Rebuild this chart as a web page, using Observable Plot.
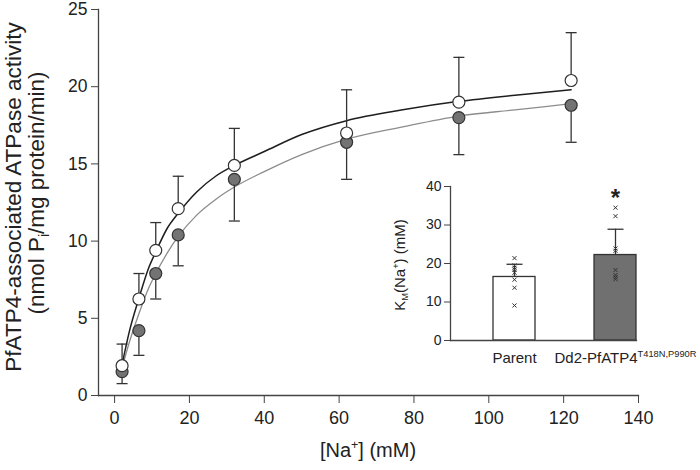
<!DOCTYPE html>
<html><head><meta charset="utf-8">
<script src="https://cdn.jsdelivr.net/npm/d3@7"></script>
<script src="https://cdn.jsdelivr.net/npm/@observablehq/plot@0.6"></script>
<style>
body{margin:0;background:#fff;}
#wrap{position:relative;width:700px;height:470px;font-family:"Liberation Sans",Arial,sans-serif;background:#fff;}
#wrap svg{position:absolute;overflow:visible;}
</style></head><body><div id="wrap"></div>
<script>
// ---- main panel data ----
const naConc = [2, 6.5, 11, 17, 32, 62, 92, 122];
const parentActivity = [1.93, 6.25, 9.4, 12.1, 14.9, 17.0, 19.0, 20.4];
const parentSD = [1.4, 1.65, 1.8, 2.1, 2.4, 2.8, 2.9, 3.1];
const mutantActivity = [1.55, 4.2, 7.9, 10.4, 14.0, 16.4, 18.0, 18.8];
const mutantSD = [0.78, 1.6, 1.65, 2.0, 2.7, 2.4, 2.4, 2.4];
const fitConc = [2, 4, 6.5, 9, 11, 14, 17, 22, 27, 32, 40, 50, 62, 77, 92, 107, 122];
const parentFit = [2.0, 4.2, 6.3, 8.2, 9.3, 10.8, 11.8, 13.2, 14.2, 14.9, 15.8, 16.9, 17.8, 18.5, 19.05, 19.45, 19.8];
const mutantFit = [1.8, 3.5, 5.3, 6.9, 7.9, 9.2, 10.3, 11.7, 12.7, 13.5, 14.5, 15.6, 16.6, 17.4, 18.1, 18.5, 18.9];
const xTicks = [0, 20, 40, 60, 80, 100, 120, 140];
const yTicks = [0, 5, 10, 15, 20, 25];

// ---- inset data ----
const groups = ["Parent", "Dd2"];
const groupLabels = ["Parent", "Dd2-PfATP4T418N,P990R"];
const kmMean = [16.5, 22.2];
const kmSD = [3.3, 6.7];
const parentKm = [21.4, 19.5, 18.9, 18.4, 17.6, 15.8, 13.7, 9.1];
const mutantKm = [34.5, 32.3, 23.9, 23.3, 18.3, 17.0, 16.4, 15.9];
const kmTicks = [0, 10, 20, 30, 40];
const sigMarks = [{group: "Dd2", label: "*"}];

const FONT = "'Liberation Sans', Arial, Helvetica, sans-serif";
const capSymbol = {draw(ctx, size) { const w = Math.sqrt(size / Math.PI); ctx.moveTo(-w, 0); ctx.lineTo(w, 0); }};

const pts = naConc.map((x, i) => ({x, parent: parentActivity[i], psd: parentSD[i], mutant: mutantActivity[i], msd: mutantSD[i]}));
const fit = fitConc.map((x, i) => ({x, parent: parentFit[i], mutant: mutantFit[i]}));

function rich(sel, parts, fs) {
  sel.text(null);
  let cur = 0;
  parts.forEach(p => {
    const off = p.sup ? -0.42 * fs : p.sub ? 0.22 * fs : 0;
    const ts = sel.append("tspan").text(p.t);
    if (off - cur !== 0) ts.attr("dy", off - cur);
    if (p.sup || p.sub) ts.attr("font-size", (p.size || 0.62) * fs);
    cur = off;
  });
}

const main = Plot.plot({
  width: 700, height: 470,
  marginLeft: 98, marginRight: 62, marginTop: 9, marginBottom: 75,
  style: {fontFamily: FONT, fontSize: "18px", color: "#222", background: "transparent"},
  x: {domain: [-4.3, 140]},
  y: {domain: [0, 25]},
  marks: [
    Plot.axisX({ticks: xTicks, tickSize: 8, tickPadding: 8, fontSize: 18, label: null, stroke: "#444"}),
    Plot.axisY({ticks: yTicks, tickSize: 7, tickPadding: 4, fontSize: 17.5, label: null, stroke: "#444"}),
    Plot.line(fit, {x: "x", y: "mutant", stroke: "#8c8c8c", strokeWidth: 1.3, curve: "monotone-x"}),
    Plot.line(fit, {x: "x", y: "parent", stroke: "#1e1e1e", strokeWidth: 1.5, curve: "monotone-x"}),
    Plot.ruleX(pts, {x: "x", y1: "parent", y2: d => d.parent + d.psd, stroke: "#333", strokeWidth: 1.3}),
    Plot.dot(pts, {x: "x", y: d => d.parent + d.psd, symbol: capSymbol, r: 5.5, fill: "none", stroke: "#333", strokeWidth: 1.3}),
    Plot.ruleX(pts, {x: "x", y1: d => d.mutant - d.msd, y2: "mutant", stroke: "#333", strokeWidth: 1.3}),
    Plot.dot(pts, {x: "x", y: d => d.mutant - d.msd, symbol: capSymbol, r: 5.5, fill: "none", stroke: "#333", strokeWidth: 1.3}),
    Plot.dot(pts, {x: "x", y: "mutant", r: 6, fill: "#737373", stroke: "#333", strokeWidth: 1.2}),
    Plot.dot(pts, {x: "x", y: "parent", r: 6, fill: "#fff", stroke: "#333", strokeWidth: 1.2}),
    Plot.frame({anchor: "left", stroke: "#444", strokeWidth: 1.3}),
    Plot.frame({anchor: "bottom", stroke: "#444", strokeWidth: 1.3})
  ]
});

const kmData = groups.map((g, i) => ({group: g, km: kmMean[i], sd: kmSD[i]}));
const kmPoints = [
  ...parentKm.map(v => ({group: groups[0], km: v})),
  ...mutantKm.map(v => ({group: groups[1], km: v}))
];
const fmtGroup = g => groupLabels[groups.indexOf(g)];

const inset = Plot.plot({
  width: 320, height: 200,
  marginLeft: 70, marginRight: 64, marginTop: 16, marginBottom: 30,
  style: {fontFamily: FONT, fontSize: "14px", color: "#222", background: "transparent"},
  x: {domain: groups, paddingInner: 0.588, paddingOuter: 0.206, align: 1},
  y: {domain: [0, 40]},
  color: {domain: groups, range: ["#ffffff", "#707070"]},
  marks: [
    Plot.barY(kmData, {x: "group", y: "km", fill: "group", stroke: "#333", strokeWidth: 1.3}),
    Plot.ruleX(kmData, {x: "group", y1: "km", y2: d => d.km + d.sd, stroke: "#333", strokeWidth: 1.3}),
    Plot.dot(kmData, {x: "group", y: d => d.km + d.sd, symbol: capSymbol, r: 8, fill: "none", stroke: "#333", strokeWidth: 1.3}),
    Plot.dot(kmPoints, {x: "group", y: "km", symbol: "times", r: 2, stroke: "#333", strokeWidth: 1}),
    Plot.text(sigMarks, {x: "group", text: "label", frameAnchor: "top", fontSize: 24, fontWeight: "bold", dy: 2, fill: "#222"}),
    Plot.axisY({ticks: kmTicks, tickSize: 6, tickPadding: 3, fontSize: 14, label: null, stroke: "#444"}),
    Plot.axisX({tickSize: 0, tickPadding: 12, fontSize: 15, label: null, tickFormat: fmtGroup}),
    Plot.frame({anchor: "left", stroke: "#444", strokeWidth: 1.3}),
    Plot.frame({anchor: "bottom", stroke: "#444", strokeWidth: 1.3})
  ]
});

const wrap = document.getElementById("wrap");
main.style.left = "0px"; main.style.top = "0px";
inset.style.left = "380px"; inset.style.top = "170px";
wrap.appendChild(main);
wrap.appendChild(inset);

// main axis titles
const ms = d3.select(main);
const xl = ms.append("text").attr("x", 368).attr("y", 457).attr("text-anchor", "middle")
  .attr("font-size", 20).attr("fill", "#222").attr("font-family", FONT);
rich(xl, [{t: "[Na"}, {t: "+", sup: true}, {t: "] (mM)"}], 20);
ms.append("text").attr("transform", "translate(21,197) rotate(-90)").attr("text-anchor", "middle")
  .attr("font-size", 22.5).attr("fill", "#222").attr("font-family", FONT).text("PfATP4-associated ATPase activity");
const yl2 = ms.append("text").attr("transform", "translate(44,193) rotate(-90)").attr("text-anchor", "middle")
  .attr("font-size", 22.5).attr("fill", "#222").attr("font-family", FONT);
rich(yl2, [{t: "(nmol P"}, {t: "i", sub: true}, {t: "/mg protein/min)"}], 22.5);

// inset titles
const is = d3.select(inset);
const il = is.append("text").attr("transform", "translate(25,95) rotate(-90)").attr("text-anchor", "middle")
  .attr("font-size", 15).attr("fill", "#222").attr("font-family", FONT);
rich(il, [{t: "K"}, {t: "M", sub: true}, {t: "(Na"}, {t: "+", sup: true}, {t: ") (mM)"}], 15);
is.selectAll("text").filter(function() { return this.textContent === groupLabels[1]; }).each(function() {
  const t = d3.select(this);
  rich(t, [{t: "Dd2-PfATP4"}, {t: "T418N,P990R", sup: true}], 15);
  t.select("tspan").attr("dx", 10);
});
</script></body></html>
